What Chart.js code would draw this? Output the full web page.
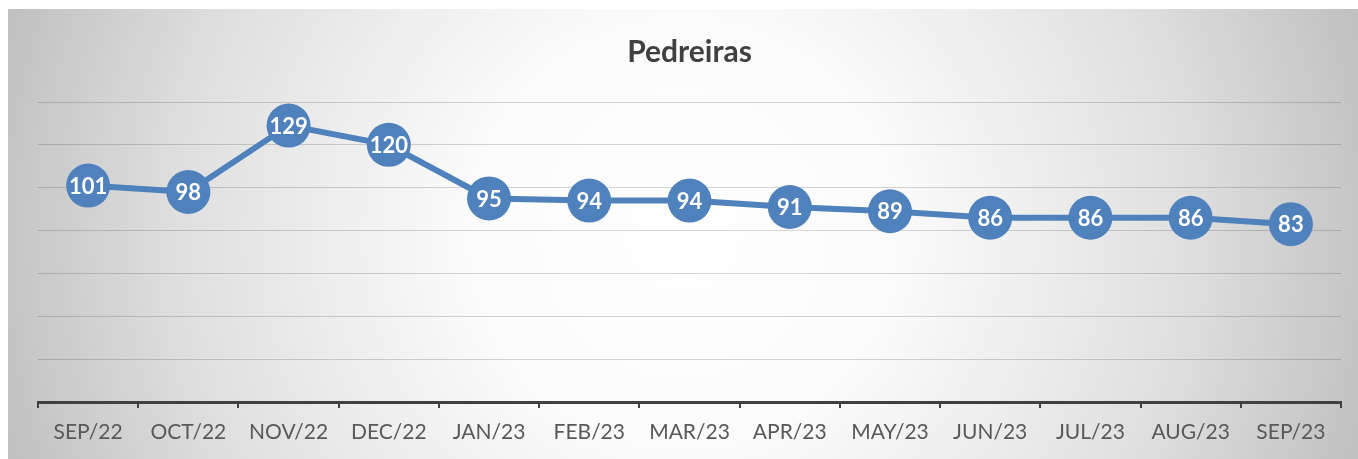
<!DOCTYPE html>
<html>
<head>
<meta charset="utf-8">
<script src="https://cdn.jsdelivr.net/npm/chart.js@4.4.0/dist/chart.umd.min.js"></script>
<style>
  html, body { margin: 0; padding: 0; background: #ffffff; }
  #wrap { width: 1358px; height: 459px; position: relative; }
</style>
</head>
<body>
<div id="wrap"><canvas id="c" width="1358" height="459"></canvas></div>
<script>
const chartTitle = "Pedreiras";
const categories = ["SEP/22", "OCT/22", "NOV/22", "DEC/22", "JAN/23", "FEB/23", "MAR/23", "APR/23", "MAY/23", "JUN/23", "JUL/23", "AUG/23", "SEP/23"];
const seriesValues = [101, 98, 129, 120, 95, 94, 94, 91, 89, 86, 86, 86, 83];
const yTickValues = [0, 20, 40, 60, 80, 100, 120, 140];

const bgPlugin = {
  id: 'bg',
  beforeDraw(chart) {
    const ctx = chart.ctx;
    const W = chart.width, H = chart.height;
    ctx.save();
    ctx.fillStyle = '#ffffff';
    ctx.fillRect(0, 0, W, H);
    const x0 = 8, y0 = 9, x1 = W, y1 = H;
    const cx = (x0 + x1) / 2, cy = (y0 + y1) / 2;
    const r = Math.hypot(x1 - cx, y1 - cy);
    const g = ctx.createRadialGradient(cx, cy, 0, cx, cy, r);
    g.addColorStop(0, '#ffffff');
    g.addColorStop(0.3, '#fbfbfb');
    g.addColorStop(0.7, '#e0e0e0');
    g.addColorStop(1, '#c0c0c0');
    ctx.fillStyle = g;
    ctx.fillRect(x0, y0, x1 - x0, y1 - y0);
    ctx.restore();
  }
};

const labelPlugin = {
  id: 'valueLabels',
  afterDatasetsDraw(chart) {
    const ctx = chart.ctx;
    const meta = chart.getDatasetMeta(0);
    ctx.save();
    ctx.fillStyle = '#ffffff';
    ctx.font = 'bold 22px Lato';
    ctx.textAlign = 'center';
    ctx.textBaseline = 'middle';
    meta.data.forEach((pt, i) => {
      ctx.fillText(String(seriesValues[i]), pt.x, pt.y + 1);
    });
    ctx.restore();
  }
};

new Chart(document.getElementById('c'), {
  type: 'line',
  data: {
    labels: categories,
    datasets: [{
      data: seriesValues,
      borderColor: '#4f81bd',
      backgroundColor: '#4f81bd',
      borderWidth: 6,
      pointRadius: 22,
      pointHoverRadius: 22,
      pointBackgroundColor: '#4f81bd',
      pointBorderWidth: 0,
      tension: 0,
      clip: false
    }]
  },
  options: {
    responsive: false,
    animation: false,
    events: [],
    layout: { autoPadding: false, padding: { left: 38, right: 17, top: 0, bottom: 0 } },
    plugins: {
      legend: { display: false },
      tooltip: { enabled: false },
      title: {
        display: true,
        text: chartTitle,
        color: '#404040',
        font: { family: 'Lato', size: 30, weight: 'bold' },
        padding: { top: 34, bottom: 32 }
      }
    },
    scales: {
      x: {
        type: 'category',
        offset: true,
        grid: {
          display: true,
          offset: true,
          drawOnChartArea: false,
          drawTicks: true,
          tickLength: 6,
          color: '#404040',
          lineWidth: 2
        },
        border: { display: true, color: '#404040', width: 3 },
        ticks: {
          color: '#595959',
          font: { family: 'Lato', size: 21 },
          padding: 12,
          maxRotation: 0,
          autoSkip: false
        },
        afterFit(s) { s.height = 57; s.paddingLeft = 0; s.paddingRight = 0; }
      },
      y: {
        min: 0,
        max: 140,
        afterBuildTicks(s) { s.ticks = yTickValues.map(v => ({ value: v })); },
        ticks: { display: false },
        grid: { color: 'rgba(0,0,0,0.16)', lineWidth: 1, drawTicks: false },
        border: { display: false },
        afterFit(s) { s.width = 0; s.paddingTop = 0; s.paddingBottom = 0; }
      }
    }
  },
  plugins: [bgPlugin, labelPlugin]
});
</script>
</body>
</html>
